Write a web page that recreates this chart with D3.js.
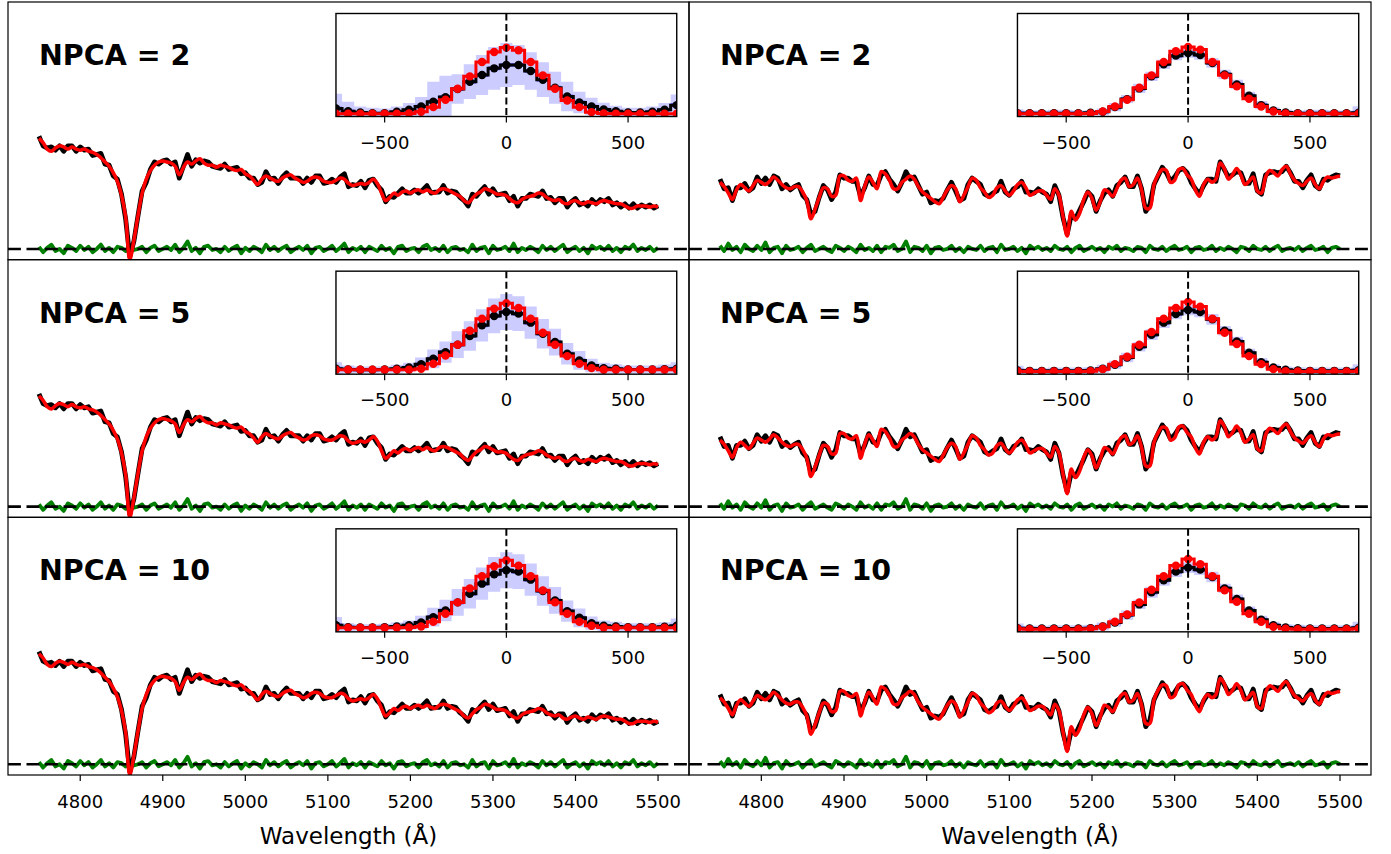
<!DOCTYPE html>
<html><head><meta charset="utf-8">
<script src="https://cdn.jsdelivr.net/npm/d3@7"></script>
<style>body{margin:0;background:#fff}svg{display:block}text{font-family:"DejaVu Sans",sans-serif}</style>
</head><body><svg id="chart" width="1391" height="854"></svg>
<script>
// ---------- data ----------
const npcaLabels = [2, 5, 10];
const wlStart = 4750, wlStep = 5;
const xTicks = [4800, 4900, 5000, 5100, 5200, 5300, 5400, 5500];
const velTicks = [-500, 0, 500];
const velBins = [-700,-650,-600,-550,-500,-450,-400,-350,-300,-250,-200,-150,-100,-50,0,50,100,150,200,250,300,350,400,450,500,550,600,650,700];

// model spectra (red), sampled every 5 A from 4750 A
const modelLeft = [
1.03,0.99,0.93,0.91,0.94,0.96,0.95,0.93,0.95,0.93,
0.92,0.93,0.91,0.90,0.88,0.85,0.81,0.77,0.71,0.63,
0.50,0.30,-0.10,0.08,0.31,0.52,0.65,0.73,0.78,0.81,
0.82,0.81,0.80,0.77,0.69,0.76,0.81,0.79,0.82,0.84,
0.80,0.78,0.78,0.76,0.78,0.77,0.76,0.74,0.73,0.74,
0.70,0.68,0.64,0.60,0.65,0.68,0.66,0.64,0.63,0.66,
0.68,0.69,0.66,0.64,0.62,0.63,0.66,0.67,0.66,0.63,
0.62,0.62,0.64,0.66,0.65,0.61,0.59,0.60,0.61,0.60,
0.62,0.65,0.61,0.52,0.45,0.48,0.52,0.50,0.53,0.54,
0.52,0.54,0.55,0.53,0.55,0.53,0.52,0.55,0.56,0.55,
0.53,0.51,0.49,0.45,0.43,0.47,0.51,0.53,0.56,0.55,
0.53,0.51,0.51,0.50,0.47,0.44,0.43,0.46,0.48,0.49,
0.50,0.52,0.51,0.48,0.46,0.45,0.46,0.43,0.42,0.44,
0.45,0.43,0.42,0.44,0.43,0.42,0.44,0.45,0.44,0.43,
0.42,0.42,0.40,0.38,0.38,0.40,0.40,0.40,0.39,0.40,
0.39];
const modelRight = [
0.62,0.58,0.52,0.46,0.55,0.60,0.57,0.54,0.59,0.64,
0.62,0.60,0.63,0.67,0.64,0.60,0.57,0.56,0.58,0.58,
0.53,0.45,0.28,0.37,0.48,0.57,0.56,0.49,0.50,0.68,
0.68,0.64,0.63,0.66,0.45,0.58,0.67,0.62,0.56,0.72,
0.70,0.64,0.56,0.56,0.62,0.65,0.68,0.65,0.58,0.53,
0.50,0.47,0.44,0.42,0.48,0.55,0.59,0.56,0.44,0.50,
0.58,0.66,0.64,0.57,0.53,0.48,0.50,0.57,0.59,0.54,
0.50,0.54,0.60,0.62,0.57,0.50,0.52,0.54,0.54,0.50,
0.46,0.56,0.50,0.30,0.12,0.35,0.27,0.33,0.46,0.53,
0.47,0.36,0.44,0.55,0.53,0.49,0.56,0.64,0.66,0.58,
0.60,0.66,0.55,0.38,0.38,0.60,0.69,0.74,0.73,0.62,
0.64,0.74,0.75,0.69,0.65,0.55,0.49,0.60,0.65,0.62,
0.65,0.80,0.75,0.65,0.69,0.75,0.69,0.60,0.63,0.67,
0.54,0.52,0.67,0.73,0.71,0.68,0.74,0.77,0.70,0.64,
0.61,0.59,0.63,0.66,0.60,0.56,0.63,0.67,0.66,0.67,
0.68];
// residuals (green), data = model + residual (black)
const residLeft = [
0.02,-0.03,0.01,0.04,-0.02,0.00,-0.04,0.03,0.01,-0.02,
0.03,-0.01,0.02,-0.03,0.00,0.04,-0.02,0.01,-0.03,0.02,
0.01,-0.02,0.03,-0.01,0.00,0.02,-0.03,0.01,0.03,-0.02,
0.00,0.02,-0.01,0.04,-0.03,0.01,0.07,-0.02,0.01,-0.04,
0.02,0.03,-0.01,0.00,-0.03,0.02,-0.02,0.01,0.03,-0.04,
0.01,-0.02,0.02,0.00,-0.03,0.04,-0.01,0.02,-0.02,0.01,
0.03,-0.03,0.00,0.02,-0.01,0.03,-0.04,0.01,0.02,-0.02,
0.00,0.03,-0.02,0.01,0.05,-0.03,0.01,-0.01,0.02,-0.03,
0.02,0.00,-0.02,0.03,-0.01,0.01,-0.04,0.02,0.03,-0.02,
0.00,0.01,-0.03,0.02,0.04,-0.01,0.01,-0.02,0.03,-0.03,
0.01,0.02,-0.01,0.00,-0.03,0.04,-0.02,0.01,0.02,-0.04,
0.03,-0.01,0.00,0.02,-0.02,0.05,-0.03,0.01,-0.01,0.02,
0.00,-0.03,0.03,-0.01,0.02,-0.02,0.01,0.04,-0.03,0.00,
0.02,-0.02,0.01,-0.04,0.03,0.00,0.02,-0.01,0.03,-0.02,
0.01,-0.03,0.02,0.00,0.04,-0.02,0.01,-0.01,0.02,-0.02,
0.01];
const residRight = [
0.03,-0.02,0.05,-0.01,0.02,-0.03,0.04,0.00,-0.02,0.03,
-0.01,0.06,-0.03,0.01,0.02,-0.04,0.03,-0.01,0.00,0.02,
-0.03,0.01,0.04,-0.02,0.00,0.02,-0.01,-0.03,0.03,0.01,
-0.02,0.02,0.00,-0.03,0.04,-0.01,0.01,-0.02,0.03,-0.03,
0.02,0.01,0.04,-0.02,0.00,0.07,-0.03,0.02,0.01,-0.02,
0.03,-0.04,0.01,0.02,-0.01,0.00,0.03,-0.02,0.01,-0.03,
0.02,0.00,-0.01,0.03,-0.02,0.01,0.02,-0.03,0.04,-0.01,
0.00,0.02,-0.02,0.01,-0.04,0.03,0.00,0.02,-0.01,0.01,
-0.02,0.03,0.00,-0.01,0.02,-0.03,0.01,0.03,-0.02,0.00,
0.02,-0.01,0.01,-0.03,0.02,0.00,0.03,-0.02,0.01,0.00,
-0.02,0.02,0.01,-0.03,0.03,0.00,-0.01,0.02,-0.02,0.01,
0.03,-0.01,0.00,0.02,-0.03,0.01,0.02,-0.01,0.00,0.03,
-0.02,0.01,-0.01,0.02,0.00,-0.03,0.02,0.01,-0.02,0.03,
0.00,-0.01,0.02,-0.02,0.01,0.03,-0.02,0.00,0.01,-0.01,
0.02,-0.02,0.01,0.03,-0.01,0.00,0.02,-0.03,0.01,0.02,
0.00];

// LOSVD insets: black (input), red (recovered), light-band half width
const inputL2 = [0.08,0.04,0.02,0.01,0.01,0.03,0.06,0.11,0.18,0.25,0.37,0.48,0.58,0.68,0.73,0.73,0.64,0.51,0.39,0.26,0.17,0.11,0.065,0.04,0.02,0.02,0.03,0.06,0.13];
const recovL2 = [0,0,0,0,0,0,0.005,0.03,0.10,0.21,0.375,0.56,0.775,0.925,0.99,0.95,0.775,0.575,0.375,0.20,0.10,0.025,0.005,0,0,0,0,0,0];
const errL2   = [0.22,0.14,0.09,0.08,0.07,0.08,0.10,0.14,0.30,0.32,0.22,0.26,0.30,0.32,0.33,0.30,0.28,0.26,0.24,0.22,0.16,0.13,0.10,0.08,0.07,0.07,0.08,0.10,0.16];
const inputL5 = [0.04,0.03,0.025,0.025,0.03,0.04,0.06,0.11,0.19,0.29,0.40,0.53,0.69,0.83,0.89,0.865,0.73,0.565,0.44,0.265,0.165,0.09,0.05,0.04,0.03,0.03,0.03,0.035,0.04];
const recovL5 = [0.025,0.025,0.025,0.025,0.025,0.025,0.025,0.04,0.115,0.24,0.40,0.61,0.79,0.94,1.02,0.95,0.79,0.58,0.40,0.23,0.115,0.05,0.025,0.025,0.025,0.025,0.025,0.025,0.025];
const errL5   = [0.10,0.06,0.05,0.05,0.05,0.06,0.07,0.10,0.14,0.16,0.20,0.22,0.24,0.26,0.27,0.26,0.24,0.22,0.20,0.16,0.14,0.10,0.08,0.07,0.06,0.06,0.06,0.07,0.10];
const inputL10 = [0.06,0.03,0.025,0.025,0.03,0.04,0.06,0.10,0.18,0.28,0.40,0.53,0.68,0.82,0.88,0.86,0.74,0.57,0.43,0.27,0.17,0.09,0.05,0.04,0.03,0.03,0.03,0.035,0.05];
const recovL10 = [0.02,0.02,0.02,0.02,0.02,0.02,0.025,0.04,0.11,0.23,0.40,0.61,0.79,0.94,1.03,0.95,0.79,0.58,0.40,0.23,0.11,0.05,0.025,0.02,0.02,0.02,0.02,0.02,0.02];
const errL10   = [0.12,0.06,0.05,0.05,0.05,0.06,0.07,0.10,0.14,0.16,0.20,0.22,0.24,0.26,0.27,0.26,0.24,0.22,0.20,0.16,0.14,0.10,0.08,0.07,0.06,0.06,0.06,0.07,0.11];
const inputR2 = [0.01,0.01,0.01,0.01,0.01,0.01,0.015,0.03,0.10,0.22,0.38,0.56,0.74,0.87,0.91,0.88,0.76,0.59,0.44,0.27,0.13,0.05,0.02,0.01,0.01,0.01,0.01,0.01,0.015];
const recovR2 = [0,0,0,0,0,0,0.005,0.035,0.11,0.21,0.39,0.575,0.775,0.935,1.0,0.96,0.775,0.575,0.41,0.225,0.11,0.035,0.005,0,0,0,0,0,0];
const errR2   = [0.06,0.04,0.04,0.05,0.05,0.04,0.04,0.05,0.06,0.06,0.07,0.07,0.07,0.07,0.07,0.07,0.07,0.07,0.07,0.06,0.06,0.05,0.04,0.04,0.05,0.05,0.04,0.04,0.10];
const inputR5 = [0.015,0.01,0.01,0.01,0.01,0.01,0.015,0.04,0.10,0.21,0.37,0.55,0.73,0.86,0.92,0.89,0.78,0.61,0.45,0.28,0.14,0.06,0.025,0.015,0.01,0.01,0.01,0.01,0.02];
const recovR5 = [0.005,0,0,0,0,0,0.005,0.035,0.11,0.22,0.40,0.59,0.79,0.95,1.04,0.97,0.79,0.58,0.41,0.23,0.11,0.035,0.005,0,0,0,0,0,0.005];
const errR5   = [0.07,0.04,0.04,0.05,0.05,0.05,0.05,0.06,0.06,0.07,0.07,0.08,0.08,0.08,0.08,0.08,0.08,0.07,0.07,0.06,0.06,0.05,0.05,0.05,0.05,0.05,0.05,0.05,0.09];
const inputR10 = [0.015,0.01,0.01,0.01,0.01,0.01,0.015,0.04,0.10,0.21,0.37,0.55,0.73,0.86,0.92,0.89,0.78,0.61,0.45,0.28,0.14,0.06,0.025,0.015,0.01,0.01,0.01,0.01,0.02];
const recovR10 = [0.005,0,0,0,0,0,0.005,0.035,0.11,0.22,0.40,0.59,0.79,0.95,1.05,0.97,0.79,0.58,0.41,0.23,0.11,0.035,0.005,0,0,0,0,0,0.005];
const errR10   = [0.07,0.04,0.04,0.05,0.05,0.05,0.05,0.06,0.06,0.07,0.07,0.08,0.08,0.08,0.08,0.08,0.08,0.07,0.07,0.06,0.06,0.05,0.05,0.05,0.05,0.05,0.05,0.05,0.09];
const errNarrow = [0.03,0.025,0.02,0.02,0.02,0.02,0.025,0.025,0.03,0.03,0.03,0.03,0.03,0.03,0.03,0.03,0.03,0.03,0.03,0.03,0.03,0.025,0.025,0.02,0.02,0.02,0.02,0.025,0.03];

// ---------- layout ----------
const svg = d3.select('#chart');
const colBounds = [[8, 689], [689, 1371]];
const rowTops = [2, 259.67, 517.33], rowH = 257.67;
const wlDomain = [4712.5, 5537.5];
const fluxDomain = [-0.1, 2.3];
const velDomain = [-700, 700];
const losvdDomain = [-0.04, 1.5];

const cols = [
  {model: modelLeft, resid: residLeft,
   insets: [[inputL2, recovL2, errL2], [inputL5, recovL5, errL5], [inputL10, recovL10, errL10]]},
  {model: modelRight, resid: residRight,
   insets: [[inputR2, recovR2, errR2], [inputR5, recovR5, errR5], [inputR10, recovR10, errR10]]}
];

cols.forEach((col, ci) => {
  const [x0, x1] = colBounds[ci];
  const x = d3.scaleLinear().domain(wlDomain).range([x0, x1]);
  const n = Math.min(col.model.length, col.resid.length);
  const pts = d3.range(n).map(i => ({
    wl: wlStart + i * wlStep, m: col.model[i], r: col.resid[i], d: col.model[i] + col.resid[i]}));

  rowTops.forEach((top, ri) => {
    const y = d3.scaleLinear().domain(fluxDomain).range([top + rowH, top]);
    const cid = `clip-${ci}-${ri}`;
    svg.append('clipPath').attr('id', cid).append('rect')
      .attr('x', x0).attr('y', top).attr('width', x1 - x0).attr('height', rowH);
    const g = svg.append('g').attr('clip-path', `url(#${cid})`);

    g.append('path').datum(pts)
      .attr('d', d3.line().x(p => x(p.wl)).y(p => y(p.r)))
      .attr('fill', 'none').attr('stroke', '#008000').attr('stroke-width', 3.8).attr('stroke-linejoin', 'round');
    g.append('line').attr('x1', x0).attr('x2', x1).attr('y1', y(0)).attr('y2', y(0))
      .attr('stroke', '#000').attr('stroke-width', 2.6).attr('stroke-dasharray', '12.9,5.6');
    g.append('path').datum(pts)
      .attr('d', d3.line().x(p => x(p.wl)).y(p => y(p.d)))
      .attr('fill', 'none').attr('stroke', '#000').attr('stroke-width', 4.8).attr('stroke-linejoin', 'round');
    g.append('path').datum(pts)
      .attr('d', d3.line().curve(d3.curveCatmullRom).x(p => x(p.wl)).y(p => y(p.m)))
      .attr('fill', 'none').attr('stroke', '#ff0000').attr('stroke-width', 3.5).attr('stroke-linejoin', 'round');

    svg.append('text').attr('x', x0 + 31).attr('y', top + 63)
      .attr('font-size', 28.5).attr('font-weight', 'bold').attr('fill', '#000')
      .text(`NPCA = ${npcaLabels[ri]}`);

    // ----- inset -----
    const [inp, rec, err] = col.insets[ri];
    const W = x1 - x0;
    const ix0 = x0 + 0.4816 * W, ix1 = x0 + 0.982 * W;
    const iy0 = top + 11.5, iy1 = top + 114.5;
    const vx = d3.scaleLinear().domain(velDomain).range([ix0, ix1]);
    const vy = d3.scaleLinear().domain(losvdDomain).range([iy1, iy0]);
    const L = velBins.map((v, i) => ({v, a: inp[i], b: rec[i], e: err[i], s: errNarrow[i]}));
    svg.append('rect').attr('x', ix0).attr('y', iy0).attr('width', ix1 - ix0).attr('height', iy1 - iy0).attr('fill', '#fff');
    const icid = `iclip-${ci}-${ri}`;
    svg.append('clipPath').attr('id', icid).append('rect')
      .attr('x', ix0).attr('y', iy0).attr('width', ix1 - ix0).attr('height', iy1 - iy0);
    const ig = svg.append('g').attr('clip-path', `url(#${icid})`);
    ig.append('path').datum(L)
      .attr('d', d3.area().curve(d3.curveStep).x(p => vx(p.v)).y0(p => vy(p.a - p.e)).y1(p => vy(p.a + p.e)))
      .attr('fill', 'rgb(204,204,255)');
    ig.append('path').datum(L)
      .attr('d', d3.area().curve(d3.curveStep).x(p => vx(p.v)).y0(p => vy(p.a - p.s)).y1(p => vy(p.a + p.s)))
      .attr('fill', 'rgb(110,110,255)');
    ig.append('path').datum(L)
      .attr('d', d3.line().curve(d3.curveStep).x(p => vx(p.v)).y(p => vy(p.a)))
      .attr('fill', 'none').attr('stroke', '#000').attr('stroke-width', 3);
    ig.selectAll('circle.k').data(L).join('circle').attr('class', 'k')
      .attr('cx', p => vx(p.v)).attr('cy', p => vy(p.a)).attr('r', 4.2).attr('fill', '#000');
    ig.append('path').datum(L)
      .attr('d', d3.line().curve(d3.curveStep).x(p => vx(p.v)).y(p => vy(p.b)))
      .attr('fill', 'none').attr('stroke', '#ff0000').attr('stroke-width', 3);
    ig.selectAll('circle.r').data(L).join('circle').attr('class', 'r')
      .attr('cx', p => vx(p.v)).attr('cy', p => vy(p.b)).attr('r', 4.2).attr('fill', '#ff0000');
    ig.append('line').attr('x1', vx(0)).attr('x2', vx(0)).attr('y1', iy0).attr('y2', iy1)
      .attr('stroke', '#000').attr('stroke-width', 2).attr('stroke-dasharray', '7,3.5');
    svg.append('rect').attr('x', ix0).attr('y', iy0).attr('width', ix1 - ix0).attr('height', iy1 - iy0)
      .attr('fill', 'none').attr('stroke', '#000').attr('stroke-width', 1.4);
    velTicks.forEach(t => {
      svg.append('line').attr('x1', vx(t)).attr('x2', vx(t)).attr('y1', iy1).attr('y2', iy1 + 6)
        .attr('stroke', '#000').attr('stroke-width', 1.2);
      svg.append('text').attr('x', vx(t)).attr('y', iy1 + 32).attr('text-anchor', 'middle')
        .attr('font-size', 18).attr('fill', '#000').text(t < 0 ? '\u2212' + Math.abs(t) : String(t));
    });

    svg.append('rect').attr('x', x0).attr('y', top).attr('width', x1 - x0).attr('height', rowH)
      .attr('fill', 'none').attr('stroke', '#000').attr('stroke-width', 1.2);

    if (ri === 2) {
      const yb = top + rowH;
      xTicks.forEach(t => {
        svg.append('line').attr('x1', x(t)).attr('x2', x(t)).attr('y1', yb).attr('y2', yb + 6)
          .attr('stroke', '#000').attr('stroke-width', 1.2);
        svg.append('text').attr('x', x(t)).attr('y', yb + 33).attr('text-anchor', 'middle')
          .attr('font-size', 18).attr('fill', '#000').text(String(t));
      });
      svg.append('text').attr('x', (x0 + x1) / 2).attr('y', 844).attr('text-anchor', 'middle')
        .attr('font-size', 23).attr('fill', '#000').text('Wavelength (\u00c5)');
    }
  });
});
</script></body></html>
